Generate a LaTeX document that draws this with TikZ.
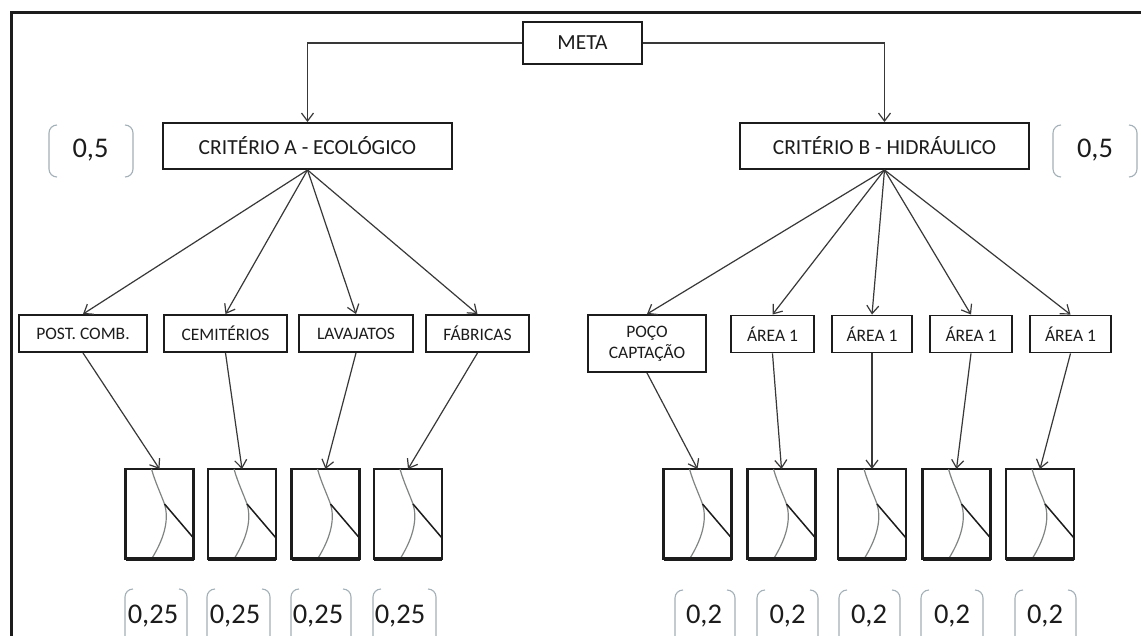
\documentclass[tikz,border=0pt]{standalone}
\usepackage{fontspec}
\setmainfont{Carlito}
\usetikzlibrary{arrows.meta}

\definecolor{ink}{HTML}{1C1C1C}
\definecolor{wire}{HTML}{383838}
\definecolor{brack}{HTML}{A3B0B8}
\definecolor{curvec}{HTML}{7F8482}

% chart glyph inside a score box: curved grey line and a straight dark segment
\newcommand\chartcurves[1]{%
  \begin{scope}[shift={(#1.north west)}]
    \draw[curveline] (26,0) .. controls (30,14) and (35,24) .. (39,35)
                     .. controls (43,48) and (41,66) .. (26,90);
    \draw[segline] (39,35) -- (68,69);
  \end{scope}
  \draw[line width=3.4pt, ink] (#1.south west) -- (#1.south east);}

% a pair of round-cornered brackets around a weight
\newcommand\bracketpair[4]{%
  \draw[bracketline] (#1+8,#2) -- (#1,#2) -- (#1,#4) -- (#1+8,#4);
  \draw[bracketline] (#3-8,#2) -- (#3,#2) -- (#3,#4) -- (#3-8,#4);}

\begin{document}
\begin{tikzpicture}[x=1pt, y=-1pt,
  lvlone/.style={draw=ink, line width=1.9pt, inner sep=0pt, text=ink,
    font=\fontsize{21.5}{24}\selectfont, minimum height=46pt},
  lvltwo/.style={draw=ink, line width=1.9pt, inner sep=0pt, text=ink, align=center,
    font=\fontsize{17.5}{21}\selectfont, minimum height=37pt},
  chartbox/.style={draw=ink, line width=2.3pt, minimum width=68pt,
    minimum height=90pt, inner sep=0pt, outer sep=0pt},
  conn/.style={draw=wire, line width=1.2pt,
    -{Straight Barb[length=8pt,width=12pt]}},
  curveline/.style={draw=curvec, line width=1.2pt},
  segline/.style={draw=ink, line width=1.5pt},
  bracketline/.style={draw=brack, line width=1.1pt, rounded corners=8pt},
  weight/.style={text=ink, inner sep=0pt, font=\fontsize{28.5}{30}\selectfont}]

\useasboundingbox (0,0) rectangle (1141,635);
\clip (0,0) rectangle (1141,635);
\fill[white] (0,0) rectangle (1141,635);

% outer frame
\draw[line width=3pt, ink] (11,12) rectangle (1200,700);

% goal and criteria
\node[lvlone, minimum width=119pt, minimum height=42pt] (meta) at (582.5,43) {META};
\node[lvlone, minimum width=289pt] (critA) at (307.5,146) {CRITÉRIO A - ECOLÓGICO};
\node[lvlone, minimum width=289pt] (critB) at (884.5,146) {CRITÉRIO B - HIDRÁULICO};

\draw[conn] (meta.west) -| (critA.north);
\draw[conn] (meta.east) -| (critB.north);

% criteria weights
\node[weight] (wA) at (90.5,150) {0,5};
\node[weight] (wB) at (1095,150) {0,5};
\bracketpair{49}{125}{133}{177}
\bracketpair{1053}{125}{1137}{177}

% sub-criteria, ecological
\node[lvltwo, minimum width=128pt] (post) at (83,333.5) {POST. COMB.};
\node[lvltwo, minimum width=123pt] (cem)  at (225.5,333.5) {CEMITÉRIOS};
\node[lvltwo, minimum width=114pt] (lav)  at (356,333.5) {LAVAJATOS};
\node[lvltwo, minimum width=103pt] (fab)  at (477.5,333.5) {FÁBRICAS};

% sub-criteria, hydraulic
\node[lvltwo, minimum width=118pt, minimum height=57pt] (poco) at (647,343.5) {POÇO\\CAPTAÇÃO};
\node[lvltwo, minimum width=83pt] (ar1) at (772.5,334) {ÁREA 1};
\node[lvltwo, minimum width=80pt] (ar2) at (872,334) {ÁREA 1};
\node[lvltwo, minimum width=82pt] (ar3) at (971,334) {ÁREA 1};
\node[lvltwo, minimum width=81pt] (ar4) at (1070.5,334) {ÁREA 1};

\foreach \t in {post,cem,lav,fab} \draw[conn] (critA.south) -- (\t.north);
\foreach \t in {poco,ar1,ar2,ar3,ar4} \draw[conn] (critB.south) -- (\t.north);

% value function boxes
\node[chartbox] (c1) at (159.5,514) {};
\node[chartbox] (c2) at (242,514) {};
\node[chartbox] (c3) at (325.5,514) {};
\node[chartbox] (c4) at (408,514) {};
\node[chartbox] (d1) at (697.5,514) {};
\node[chartbox] (d2) at (781.5,514) {};
\node[chartbox] (d3) at (872,514) {};
\node[chartbox] (d4) at (956.5,514) {};
\node[chartbox] (d5) at (1040,514) {};
\foreach \c in {c1,c2,c3,c4,d1,d2,d3,d4,d5} {\chartcurves{\c}}

\draw[conn] (post.south) -- (c1.north);
\draw[conn] (cem.south)  -- (c2.north);
\draw[conn] (lav.south)  -- (c3.north);
\draw[conn] (fab.south)  -- (c4.north);
\draw[conn] (poco.south) -- (d1.north);
\draw[conn] (ar1.south)  -- (d2.north);
\draw[conn] (ar2.south)  -- (d3.north);
\draw[conn] (ar3.south)  -- (d4.north);
\draw[conn] (ar4.south)  -- (d5.north);

% sub-criteria weights
\node[weight] (v1) at (153,616) {0,25};
\node[weight] (v2) at (235,616) {0,25};
\node[weight] (v3) at (318,616) {0,25};
\node[weight] (v4) at (400,616) {0,25};
\bracketpair{125}{589}{187}{648}
\bracketpair{207}{589}{270}{648}
\bracketpair{291}{589}{351}{648}
\bracketpair{373}{589}{436}{648}

\node[weight] (u1) at (704,616) {0,2};
\node[weight] (u2) at (787.5,616) {0,2};
\node[weight] (u3) at (869,616) {0,2};
\node[weight] (u4) at (952,616) {0,2};
\node[weight] (u5) at (1045,616) {0,2};
\bracketpair{675}{590}{735}{648}
\bracketpair{757}{590}{818}{648}
\bracketpair{839}{590}{900}{648}
\bracketpair{921}{590}{983}{648}
\bracketpair{1015}{590}{1076}{648}
\end{tikzpicture}
\end{document}
